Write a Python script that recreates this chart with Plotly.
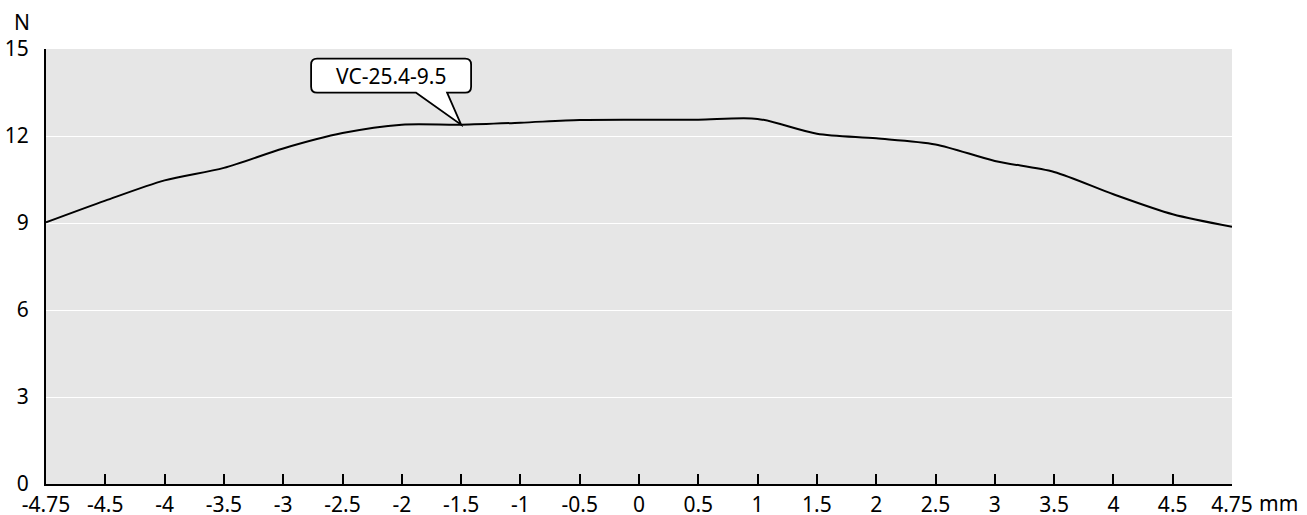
import plotly.graph_objects as go

x_labels = ["-4.75", "-4.5", "-4", "-3.5", "-3", "-2.5", "-2", "-1.5", "-1", "-0.5",
            "0", "0.5", "1", "1.5", "2", "2.5", "3", "3.5", "4", "4.5", "4.75"]
force_n = [9.02, 9.77, 10.47, 10.90, 11.57, 12.10, 12.39, 12.39, 12.46, 12.55,
           12.56, 12.56, 12.59, 12.08, 11.92, 11.71, 11.14, 10.76, 9.99, 9.30, 8.87]
y_ticks = [0, 3, 6, 9, 12, 15]
series_name = "VC-25.4-9.5"
callout_index = 7  # x = -1.5

x_pos = list(range(len(x_labels)))
FONT = "Noto Sans, Open Sans, DejaVu Sans, sans-serif"
FS = 21

fig = go.Figure()
fig.add_trace(go.Scatter(
    x=x_pos, y=force_n, mode="lines", name=series_name,
    line=dict(color="black", width=2, shape="spline", smoothing=0.8),
    hoverinfo="skip", showlegend=False,
))

# speech-bubble callout anchored at the data point
bubble = ("M -45,32 L 0,0 L -14,32 L 4,32 Q 10,32 10,38 L 10,60 Q 10,66 4,66 "
          "L -144,66 Q -150,66 -150,60 L -150,38 Q -150,32 -144,32 Z")
fig.add_shape(type="path", xref="x", yref="y",
              xsizemode="pixel", ysizemode="pixel",
              xanchor=x_pos[callout_index], yanchor=force_n[callout_index],
              path=bubble, fillcolor="white",
              line=dict(color="black", width=1.8), layer="above")
fig.add_annotation(x=x_pos[callout_index], y=force_n[callout_index], xref="x", yref="y",
                   text=series_name, showarrow=False, xshift=-70, yshift=49,
                   font=dict(family=FONT, size=FS, color="black"))

fig.add_annotation(x=0, y=1, xref="paper", yref="paper", text="N", showarrow=False,
                   xanchor="center", yanchor="bottom", xshift=-24, yshift=11,
                   font=dict(family=FONT, size=FS, color="black"))
fig.add_annotation(x=x_pos[-1], y=0, xref="x", yref="paper", text="mm", showarrow=False,
                   xanchor="left", yanchor="top", xshift=25, yshift=-3,
                   font=dict(family=FONT, size=FS, color="black"))

fig.update_layout(
    width=1307, height=515,
    margin=dict(l=46, r=75, t=49, b=31),
    paper_bgcolor="white", plot_bgcolor="#e6e6e6",
    font=dict(family=FONT, size=FS, color="black"),
    xaxis=dict(range=[x_pos[0], x_pos[-1]], tickmode="array", tickvals=x_pos,
               ticktext=x_labels, ticks="inside", ticklen=10, tickwidth=2,
               tickcolor="black", showline=True, linecolor="black", linewidth=2,
               showgrid=False, zeroline=False, fixedrange=True,
               automargin=False, ticklabelstandoff=1),
    yaxis=dict(range=[0, 15], tickmode="array", tickvals=y_ticks,
               showline=True, linecolor="black", linewidth=2,
               showgrid=True, gridcolor="white", gridwidth=1,
               zeroline=False, ticks="", ticklabelstandoff=11, fixedrange=True,
               automargin=False),
)

fig.write_html("out.html", config={"displayModeBar": False},
               post_script="document.body.style.margin='0';document.body.style.overflow='hidden';")
